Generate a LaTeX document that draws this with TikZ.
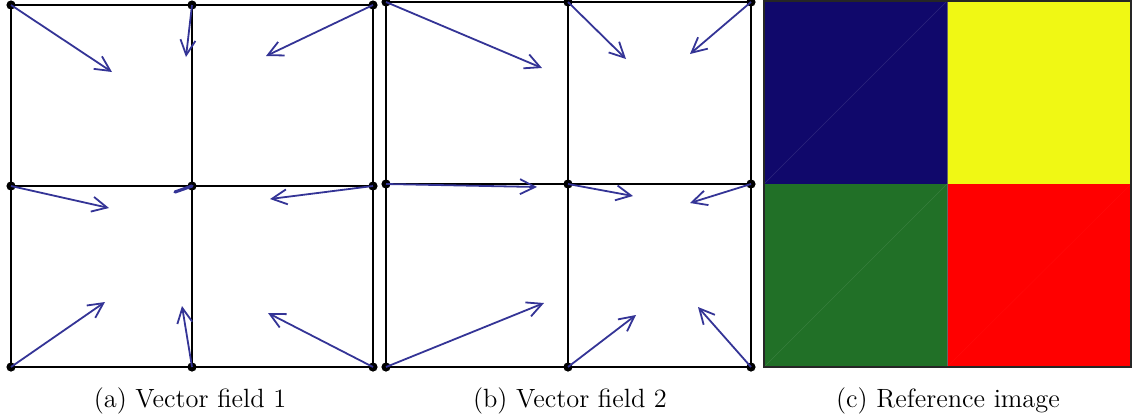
\documentclass[tikz,border=0pt]{standalone}
\usetikzlibrary{arrows.meta}
\definecolor{vecblue}{RGB}{52,52,150}
\definecolor{cnavy}{RGB}{16,8,107}
\definecolor{cyellow}{RGB}{240,248,20}
\definecolor{cgreen}{RGB}{33,112,39}
\definecolor{cred}{RGB}{255,0,0}
\begin{document}
\begin{tikzpicture}[x=0.5pt,y=-0.5pt,
  gridline/.style={line width=1pt,black},
  dot/.style={circle,fill=black,inner sep=0pt,minimum size=4.6pt},
  vec/.style={line width=0.9pt,vecblue,-{Straight Barb[length=7.5pt,width=7.5pt,line width=0.9pt]}},
  captext/.style={anchor=base,inner sep=0pt,font=\fontsize{13.2}{15}\selectfont}]
\useasboundingbox (0,0) rectangle (1132,419);
% ---------- panel (a)
\draw[gridline] (11,5) rectangle (373,367);
\draw[gridline] (192,5) -- (192,367);
\draw[gridline] (11,186) -- (373,186);
\foreach \i/\x in {0/11,1/192,2/373}{
  \foreach \j/\y in {0/5,1/186,2/367}{
    \node[dot] (a\i\j) at (\x,\y) {};
  }
}
\coordinate (ta00) at (112,72);
\coordinate (ta10) at (186,57);
\coordinate (ta20) at (266,56);
\coordinate (ta01) at (109,208);
\coordinate (ta11) at (175,192);
\coordinate (ta21) at (270,199);
\coordinate (ta02) at (105,302);
\coordinate (ta12) at (182,306);
\coordinate (ta22) at (268,313);
\foreach \n in {00,10,20,01,21,02,12,22}{
  \draw[vec] (a\n.center) -- (ta\n);
}
\draw[line width=1.6pt,vecblue,line cap=round] (a11.center) -- (ta11);
% ---------- panel (b)
\draw[gridline] (386,2) rectangle (751,367);
\draw[gridline] (568,2) -- (568,367);
\draw[gridline] (386,184) -- (751,184);
\foreach \i/\x in {0/386,1/568,2/751}{
  \foreach \j/\y in {0/2,1/184,2/367}{
    \node[dot] (b\i\j) at (\x,\y) {};
  }
}
\coordinate (tb00) at (542,68);
\coordinate (tb10) at (626,59);
\coordinate (tb20) at (690,54);
\coordinate (tb01) at (537,187);
\coordinate (tb11) at (633,196);
\coordinate (tb21) at (690,203);
\coordinate (tb02) at (544,303);
\coordinate (tb12) at (636,315);
\coordinate (tb22) at (698,307);
\foreach \n in {00,10,20,01,11,21,02,12,22}{
  \draw[vec] (b\n.center) -- (tb\n);
}
% ---------- panel (c)
\fill[cnavy] (764,1) rectangle (947,184);
\fill[cyellow] (947,1) rectangle (1131,184);
\fill[cgreen] (764,184) rectangle (947,367);
\fill[cred] (947,184) rectangle (1131,367);
\draw[line width=0.3pt,cnavy!88!white] (764,184) -- (947,1);
\draw[line width=0.3pt,cgreen!90!white] (764,367) -- (947,184);
\draw[line width=0.3pt,cred!97!white] (947,367) -- (1131,184);
\draw[line width=0.3pt,black!60] (947,1) -- (947,367);
\draw[line width=0.8pt,black!85] (764,1) rectangle (1131,367);
% ---------- captions
\node[captext] (capa) at (190,407) {(a) Vector field 1};
\node[captext] (capb) at (570,407) {(b) Vector field 2};
\node[captext] (capc) at (948,407) {(c) Reference image};
\end{tikzpicture}
\end{document}
